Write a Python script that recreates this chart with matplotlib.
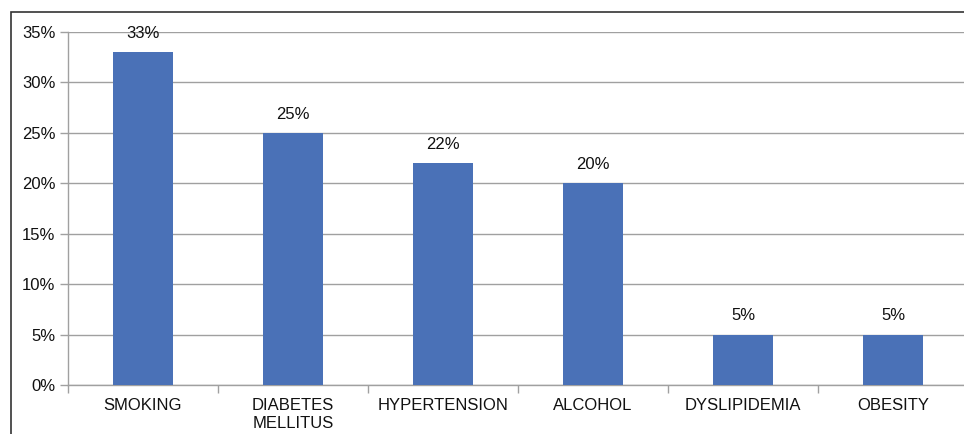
import matplotlib.pyplot as plt
from matplotlib.patches import Rectangle
import numpy as np

plt.rcParams['font.family'] = ['Liberation Sans', 'DejaVu Sans']

# Data
categories = ["SMOKING", "DIABETES\nMELLITUS", "HYPERTENSION", "ALCOHOL", "DYSLIPIDEMIA", "OBESITY"]
values = [33, 25, 22, 20, 5, 5]
y_ticks = [0, 5, 10, 15, 20, 25, 30, 35]

fig = plt.figure(figsize=(9.64, 4.34), dpi=100)
ax = fig.add_axes([68 / 964, 1 - 385 / 434, 900 / 964, 353 / 434])

x = np.arange(len(categories))
bars = ax.bar(x, values, width=0.4, color="#4a71b7", zorder=3)

# value labels
for xi, v in zip(x, values):
    ax.annotate(f"{v}%", (xi, v), xytext=(0, 8), textcoords="offset points",
                ha="center", va="bottom", fontsize=12, color="#111111")

ax.set_xlim(-0.5, len(categories) - 0.5)
ax.set_ylim(0, 35)
ax.set_yticks(y_ticks)
ax.set_yticklabels([f"{t}%" for t in y_ticks], fontsize=12, color="#111111")
ax.yaxis.grid(True, color="#a0a0a0", lw=1, zorder=0)

ax.set_xticks(x)
ax.set_xticklabels(categories, fontsize=12, color="#111111", linespacing=1.25, va="top")
ax.tick_params(axis="x", length=0, pad=9)
ax.set_xticks(np.arange(len(categories) + 1) - 0.5, minor=True)
ax.tick_params(axis="x", which="minor", length=6, color="#a0a0a0", width=1)
ax.tick_params(axis="y", length=6, color="#a0a0a0", width=1, pad=3)

for side in ["top", "right"]:
    ax.spines[side].set_visible(False)
for side in ["left", "bottom"]:
    ax.spines[side].set_color("#a0a0a0")
    ax.spines[side].set_linewidth(1)

# outer chart border
fig.patches.append(Rectangle((11 / 964, -0.1), 1.2, 1 - 12 / 434 + 0.1, transform=fig.transFigure,
                             fill=False, edgecolor="#333333", lw=1.2))

fig.savefig("out.png", dpi=100)
